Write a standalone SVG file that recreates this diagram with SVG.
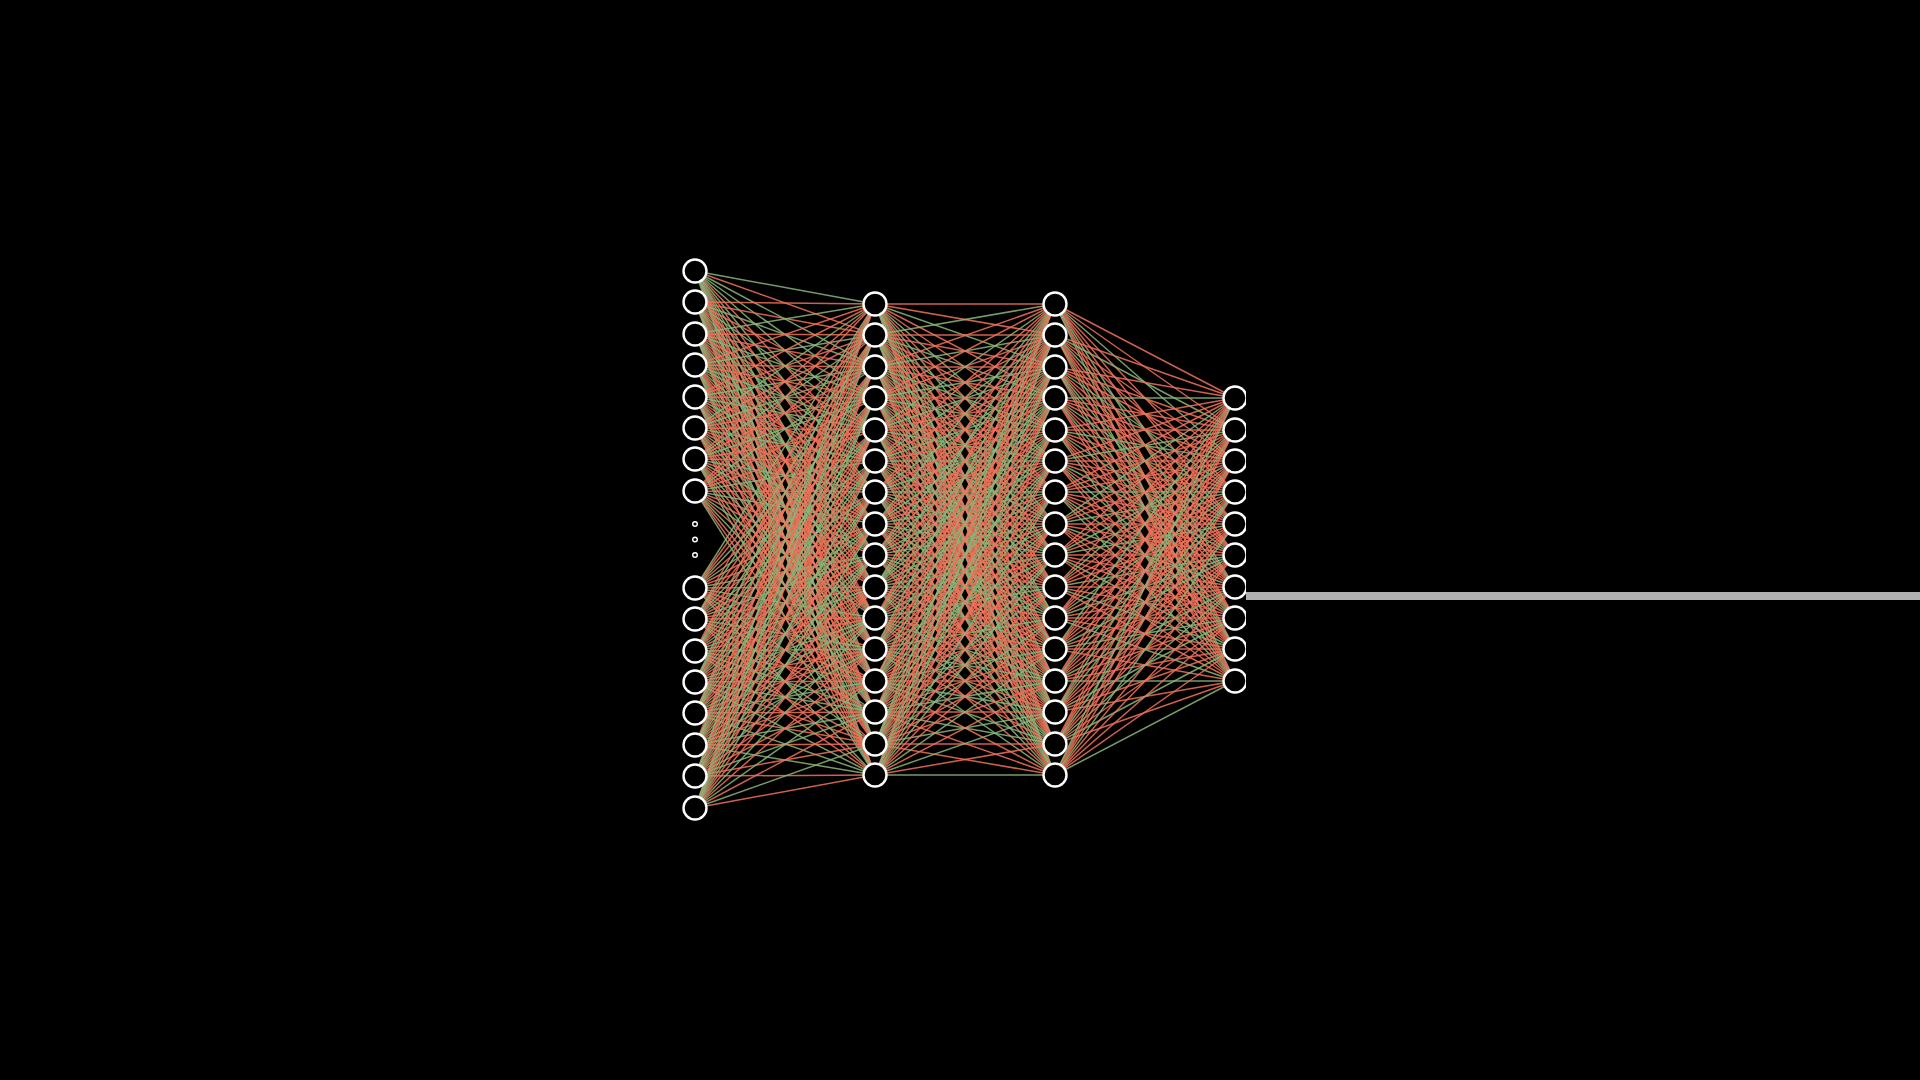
<svg xmlns="http://www.w3.org/2000/svg" width="1920" height="1080" viewBox="0 0 1920 1080">
<style>
.r{fill:none;stroke:#f0735a;stroke-width:1.5;stroke-opacity:0.85}
.g{fill:none;stroke:#8cb67a;stroke-width:1.5;stroke-opacity:0.85}
.n{fill:#000;stroke:#fff;stroke-width:2.4}
.d{fill:#000;stroke:#fff;stroke-width:1.4}
</style>
<defs>
<clipPath id="outclip"><rect x="1200" y="0" width="46" height="1080"/></clipPath>
</defs>
<rect width="1920" height="1080" fill="#000"/>
<rect x="1246" y="592" width="674" height="8" fill="#b0b0b0"/>
<g id="connectors">
<g id="edges-l1-l2">
<path class="r" d="M695 271 875 335M695 271 875 461M695 271 875 524M695 271 875 618M695 271 875 681M695 271 875 712"/>
<path class="g" d="M695 271 875 304M695 271 875 367M695 271 875 398M695 271 875 430M695 271 875 492M695 271 875 555M695 271 875 587M695 271 875 649M695 271 875 744M695 271 875 775"/>
<path class="r" d="M695 302 875 304M695 302 875 335M695 302 875 398M695 302 875 461M695 302 875 492M695 302 875 555M695 302 875 618M695 302 875 649M695 302 875 712M695 302 875 775"/>
<path class="g" d="M695 302 875 367M695 302 875 430M695 302 875 524M695 302 875 587M695 302 875 681M695 302 875 744"/>
<path class="r" d="M695 334 875 335M695 334 875 367M695 334 875 430M695 334 875 492M695 334 875 524M695 334 875 587M695 334 875 649M695 334 875 712M695 334 875 744"/>
<path class="g" d="M695 334 875 304M695 334 875 398M695 334 875 461M695 334 875 555M695 334 875 618M695 334 875 681M695 334 875 775"/>
<path class="r" d="M695 365 875 304M695 365 875 367M695 365 875 398M695 365 875 492M695 365 875 555M695 365 875 587M695 365 875 618M695 365 875 681M695 365 875 775"/>
<path class="g" d="M695 365 875 335M695 365 875 430M695 365 875 461M695 365 875 524M695 365 875 649M695 365 875 712M695 365 875 744"/>
<path class="r" d="M695 397 875 304M695 397 875 335M695 397 875 398M695 397 875 461M695 397 875 524M695 397 875 555M695 397 875 618M695 397 875 649M695 397 875 712M695 397 875 775"/>
<path class="g" d="M695 397 875 367M695 397 875 430M695 397 875 492M695 397 875 587M695 397 875 681M695 397 875 744"/>
<path class="r" d="M695 428 875 335M695 428 875 398M695 428 875 430M695 428 875 492M695 428 875 524M695 428 875 587M695 428 875 649M695 428 875 681M695 428 875 744M695 428 875 775"/>
<path class="g" d="M695 428 875 304M695 428 875 367M695 428 875 461M695 428 875 555M695 428 875 618M695 428 875 712"/>
<path class="r" d="M695 459 875 304M695 459 875 367M695 459 875 430M695 459 875 461M695 459 875 524M695 459 875 587M695 459 875 618M695 459 875 681M695 459 875 744"/>
<path class="g" d="M695 459 875 335M695 459 875 398M695 459 875 492M695 459 875 555M695 459 875 649M695 459 875 712M695 459 875 775"/>
<path class="r" d="M695 491 875 304M695 491 875 335M695 491 875 398M695 491 875 430M695 491 875 492M695 491 875 555M695 491 875 587M695 491 875 649M695 491 875 712M695 491 875 744"/>
<path class="g" d="M695 491 875 367M695 491 875 461M695 491 875 524M695 491 875 618M695 491 875 681M695 491 875 775"/>
<path class="r" d="M695 588 875 335M695 588 875 367M695 588 875 430M695 588 875 492M695 588 875 524M695 588 875 587M695 588 875 649M695 588 875 681M695 588 875 744"/>
<path class="g" d="M695 588 875 304M695 588 875 398M695 588 875 461M695 588 875 555M695 588 875 618M695 588 875 712M695 588 875 775"/>
<path class="r" d="M695 619 875 304M695 619 875 367M695 619 875 398M695 619 875 461M695 619 875 524M695 619 875 587M695 619 875 618M695 619 875 681M695 619 875 712M695 619 875 775"/>
<path class="g" d="M695 619 875 335M695 619 875 430M695 619 875 492M695 619 875 555M695 619 875 649M695 619 875 744"/>
<path class="r" d="M695 651 875 304M695 651 875 335M695 651 875 398M695 651 875 461M695 651 875 492M695 651 875 555M695 651 875 618M695 651 875 681M695 651 875 744M695 651 875 775"/>
<path class="g" d="M695 651 875 367M695 651 875 430M695 651 875 524M695 651 875 587M695 651 875 649M695 651 875 712"/>
<path class="r" d="M695 682 875 335M695 682 875 398M695 682 875 430M695 682 875 492M695 682 875 555M695 682 875 587M695 682 875 649M695 682 875 681M695 682 875 744"/>
<path class="g" d="M695 682 875 304M695 682 875 367M695 682 875 461M695 682 875 524M695 682 875 618M695 682 875 712M695 682 875 775"/>
<path class="r" d="M695 713 875 304M695 713 875 367M695 713 875 430M695 713 875 492M695 713 875 524M695 713 875 587M695 713 875 649M695 713 875 712M695 713 875 744"/>
<path class="g" d="M695 713 875 335M695 713 875 398M695 713 875 461M695 713 875 555M695 713 875 618M695 713 875 681M695 713 875 775"/>
<path class="r" d="M695 745 875 304M695 745 875 335M695 745 875 398M695 745 875 461M695 745 875 524M695 745 875 587M695 745 875 618M695 745 875 681M695 745 875 744"/>
<path class="g" d="M695 745 875 367M695 745 875 430M695 745 875 492M695 745 875 555M695 745 875 649M695 745 875 712M695 745 875 775"/>
<path class="r" d="M695 776 875 335M695 776 875 367M695 776 875 430M695 776 875 461M695 776 875 524M695 776 875 587M695 776 875 649M695 776 875 681M695 776 875 744M695 776 875 775"/>
<path class="g" d="M695 776 875 304M695 776 875 398M695 776 875 492M695 776 875 555M695 776 875 618M695 776 875 712"/>
<path class="r" d="M695 808 875 304M695 808 875 367M695 808 875 430M695 808 875 492M695 808 875 555M695 808 875 587M695 808 875 649M695 808 875 712M695 808 875 775"/>
<path class="g" d="M695 808 875 335M695 808 875 398M695 808 875 461M695 808 875 524M695 808 875 618M695 808 875 681M695 808 875 744"/>
</g>
<g id="edges-l2-l3">
<path class="r" d="M875 304 1055 304M875 304 1055 335M875 304 1055 398M875 304 1055 430M875 304 1055 492M875 304 1055 555M875 304 1055 587M875 304 1055 649M875 304 1055 712M875 304 1055 744"/>
<path class="g" d="M875 304 1055 367M875 304 1055 461M875 304 1055 524M875 304 1055 618M875 304 1055 681M875 304 1055 775"/>
<path class="r" d="M875 335 1055 335M875 335 1055 367M875 335 1055 430M875 335 1055 492M875 335 1055 524M875 335 1055 587M875 335 1055 649M875 335 1055 681M875 335 1055 744"/>
<path class="g" d="M875 335 1055 304M875 335 1055 398M875 335 1055 461M875 335 1055 555M875 335 1055 618M875 335 1055 712M875 335 1055 775"/>
<path class="r" d="M875 367 1055 304M875 367 1055 367M875 367 1055 398M875 367 1055 461M875 367 1055 524M875 367 1055 587M875 367 1055 618M875 367 1055 681M875 367 1055 712M875 367 1055 775"/>
<path class="g" d="M875 367 1055 335M875 367 1055 430M875 367 1055 492M875 367 1055 555M875 367 1055 649M875 367 1055 744"/>
<path class="r" d="M875 398 1055 304M875 398 1055 335M875 398 1055 398M875 398 1055 461M875 398 1055 492M875 398 1055 555M875 398 1055 618M875 398 1055 681M875 398 1055 744M875 398 1055 775"/>
<path class="g" d="M875 398 1055 367M875 398 1055 430M875 398 1055 524M875 398 1055 587M875 398 1055 649M875 398 1055 712"/>
<path class="r" d="M875 430 1055 335M875 430 1055 398M875 430 1055 430M875 430 1055 492M875 430 1055 555M875 430 1055 587M875 430 1055 649M875 430 1055 681M875 430 1055 744"/>
<path class="g" d="M875 430 1055 304M875 430 1055 367M875 430 1055 461M875 430 1055 524M875 430 1055 618M875 430 1055 712M875 430 1055 775"/>
<path class="r" d="M875 461 1055 304M875 461 1055 367M875 461 1055 430M875 461 1055 492M875 461 1055 524M875 461 1055 587M875 461 1055 649M875 461 1055 712M875 461 1055 744"/>
<path class="g" d="M875 461 1055 335M875 461 1055 398M875 461 1055 461M875 461 1055 555M875 461 1055 618M875 461 1055 681M875 461 1055 775"/>
<path class="r" d="M875 492 1055 304M875 492 1055 335M875 492 1055 398M875 492 1055 461M875 492 1055 524M875 492 1055 587M875 492 1055 618M875 492 1055 681M875 492 1055 744"/>
<path class="g" d="M875 492 1055 367M875 492 1055 430M875 492 1055 492M875 492 1055 555M875 492 1055 649M875 492 1055 712M875 492 1055 775"/>
<path class="r" d="M875 524 1055 335M875 524 1055 367M875 524 1055 430M875 524 1055 461M875 524 1055 524M875 524 1055 587M875 524 1055 649M875 524 1055 681M875 524 1055 744M875 524 1055 775"/>
<path class="g" d="M875 524 1055 304M875 524 1055 398M875 524 1055 492M875 524 1055 555M875 524 1055 618M875 524 1055 712"/>
<path class="r" d="M875 555 1055 304M875 555 1055 367M875 555 1055 430M875 555 1055 492M875 555 1055 555M875 555 1055 587M875 555 1055 649M875 555 1055 712M875 555 1055 775"/>
<path class="g" d="M875 555 1055 335M875 555 1055 398M875 555 1055 461M875 555 1055 524M875 555 1055 618M875 555 1055 681M875 555 1055 744"/>
<path class="r" d="M875 587 1055 335M875 587 1055 461M875 587 1055 524M875 587 1055 618M875 587 1055 681M875 587 1055 712"/>
<path class="g" d="M875 587 1055 304M875 587 1055 367M875 587 1055 398M875 587 1055 430M875 587 1055 492M875 587 1055 555M875 587 1055 587M875 587 1055 649M875 587 1055 744M875 587 1055 775"/>
<path class="r" d="M875 618 1055 304M875 618 1055 335M875 618 1055 398M875 618 1055 461M875 618 1055 492M875 618 1055 555M875 618 1055 618M875 618 1055 649M875 618 1055 712M875 618 1055 775"/>
<path class="g" d="M875 618 1055 367M875 618 1055 430M875 618 1055 524M875 618 1055 587M875 618 1055 681M875 618 1055 744"/>
<path class="r" d="M875 649 1055 335M875 649 1055 367M875 649 1055 430M875 649 1055 492M875 649 1055 524M875 649 1055 587M875 649 1055 649M875 649 1055 712M875 649 1055 744"/>
<path class="g" d="M875 649 1055 304M875 649 1055 398M875 649 1055 461M875 649 1055 555M875 649 1055 618M875 649 1055 681M875 649 1055 775"/>
<path class="r" d="M875 681 1055 304M875 681 1055 367M875 681 1055 398M875 681 1055 492M875 681 1055 555M875 681 1055 587M875 681 1055 618M875 681 1055 681M875 681 1055 775"/>
<path class="g" d="M875 681 1055 335M875 681 1055 430M875 681 1055 461M875 681 1055 524M875 681 1055 649M875 681 1055 712M875 681 1055 744"/>
<path class="r" d="M875 712 1055 304M875 712 1055 335M875 712 1055 398M875 712 1055 461M875 712 1055 524M875 712 1055 555M875 712 1055 618M875 712 1055 649M875 712 1055 712M875 712 1055 775"/>
<path class="g" d="M875 712 1055 367M875 712 1055 430M875 712 1055 492M875 712 1055 587M875 712 1055 681M875 712 1055 744"/>
<path class="r" d="M875 744 1055 335M875 744 1055 398M875 744 1055 430M875 744 1055 492M875 744 1055 524M875 744 1055 587M875 744 1055 649M875 744 1055 681M875 744 1055 744M875 744 1055 775"/>
<path class="g" d="M875 744 1055 304M875 744 1055 367M875 744 1055 461M875 744 1055 555M875 744 1055 618M875 744 1055 712"/>
<path class="r" d="M875 775 1055 304M875 775 1055 367M875 775 1055 430M875 775 1055 461M875 775 1055 524M875 775 1055 587M875 775 1055 618M875 775 1055 681M875 775 1055 744"/>
<path class="g" d="M875 775 1055 335M875 775 1055 398M875 775 1055 492M875 775 1055 555M875 775 1055 649M875 775 1055 712M875 775 1055 775"/>
</g>
<g id="edges-l3-l4">
<path class="r" d="M1055 304 1235 398M1055 304 1235 430M1055 304 1235 492M1055 304 1235 524M1055 304 1235 555M1055 304 1235 618M1055 304 1235 649"/>
<path class="g" d="M1055 304 1235 461M1055 304 1235 587M1055 304 1235 681"/>
<path class="r" d="M1055 335 1235 398M1055 335 1235 461M1055 335 1235 492M1055 335 1235 555M1055 335 1235 587M1055 335 1235 618M1055 335 1235 681"/>
<path class="g" d="M1055 335 1235 430M1055 335 1235 524M1055 335 1235 649"/>
<path class="r" d="M1055 367 1235 398M1055 367 1235 430M1055 367 1235 461M1055 367 1235 524M1055 367 1235 555M1055 367 1235 618M1055 367 1235 681"/>
<path class="g" d="M1055 367 1235 492M1055 367 1235 587M1055 367 1235 649"/>
<path class="r" d="M1055 398 1235 430M1055 398 1235 461M1055 398 1235 492M1055 398 1235 555M1055 398 1235 587M1055 398 1235 649M1055 398 1235 681"/>
<path class="g" d="M1055 398 1235 398M1055 398 1235 524M1055 398 1235 618"/>
<path class="r" d="M1055 430 1235 398M1055 430 1235 430M1055 430 1235 492M1055 430 1235 524M1055 430 1235 587M1055 430 1235 618M1055 430 1235 649"/>
<path class="g" d="M1055 430 1235 461M1055 430 1235 555M1055 430 1235 681"/>
<path class="r" d="M1055 461 1235 398M1055 461 1235 461M1055 461 1235 492M1055 461 1235 524M1055 461 1235 587M1055 461 1235 649M1055 461 1235 681"/>
<path class="g" d="M1055 461 1235 430M1055 461 1235 555M1055 461 1235 618"/>
<path class="r" d="M1055 492 1235 398M1055 492 1235 430M1055 492 1235 461M1055 492 1235 524M1055 492 1235 555M1055 492 1235 587M1055 492 1235 649"/>
<path class="g" d="M1055 492 1235 492M1055 492 1235 618M1055 492 1235 681"/>
<path class="r" d="M1055 524 1235 430M1055 524 1235 461M1055 524 1235 524M1055 524 1235 555M1055 524 1235 618M1055 524 1235 649M1055 524 1235 681"/>
<path class="g" d="M1055 524 1235 398M1055 524 1235 492M1055 524 1235 587"/>
<path class="r" d="M1055 555 1235 398M1055 555 1235 430M1055 555 1235 492M1055 555 1235 555M1055 555 1235 587M1055 555 1235 618M1055 555 1235 681"/>
<path class="g" d="M1055 555 1235 461M1055 555 1235 524M1055 555 1235 649"/>
<path class="r" d="M1055 587 1235 398M1055 587 1235 461M1055 587 1235 492M1055 587 1235 524M1055 587 1235 587M1055 587 1235 618M1055 587 1235 681"/>
<path class="g" d="M1055 587 1235 430M1055 587 1235 555M1055 587 1235 649"/>
<path class="r" d="M1055 618 1235 398M1055 618 1235 430M1055 618 1235 461M1055 618 1235 524M1055 618 1235 587M1055 618 1235 618M1055 618 1235 649"/>
<path class="g" d="M1055 618 1235 492M1055 618 1235 555M1055 618 1235 681"/>
<path class="r" d="M1055 649 1235 430M1055 649 1235 461M1055 649 1235 492M1055 649 1235 524M1055 649 1235 587M1055 649 1235 649M1055 649 1235 681"/>
<path class="g" d="M1055 649 1235 398M1055 649 1235 555M1055 649 1235 618"/>
<path class="r" d="M1055 681 1235 398M1055 681 1235 430M1055 681 1235 492M1055 681 1235 524M1055 681 1235 555M1055 681 1235 618M1055 681 1235 649"/>
<path class="g" d="M1055 681 1235 461M1055 681 1235 587M1055 681 1235 681"/>
<path class="r" d="M1055 712 1235 398M1055 712 1235 461M1055 712 1235 524M1055 712 1235 555M1055 712 1235 587M1055 712 1235 649M1055 712 1235 681"/>
<path class="g" d="M1055 712 1235 430M1055 712 1235 492M1055 712 1235 618"/>
<path class="r" d="M1055 744 1235 398M1055 744 1235 430M1055 744 1235 461M1055 744 1235 524M1055 744 1235 555M1055 744 1235 618M1055 744 1235 681"/>
<path class="g" d="M1055 744 1235 492M1055 744 1235 587M1055 744 1235 649"/>
<path class="r" d="M1055 775 1235 430M1055 775 1235 461M1055 775 1235 492M1055 775 1235 555M1055 775 1235 587M1055 775 1235 618M1055 775 1235 649"/>
<path class="g" d="M1055 775 1235 398M1055 775 1235 524M1055 775 1235 681"/>
</g>
</g>
<g id="layer1">
<g id="l1n0"><circle class="n" cx="695" cy="271" r="11.5"/></g>
<g id="l1n1"><circle class="n" cx="695" cy="302" r="11.5"/></g>
<g id="l1n2"><circle class="n" cx="695" cy="334" r="11.5"/></g>
<g id="l1n3"><circle class="n" cx="695" cy="365" r="11.5"/></g>
<g id="l1n4"><circle class="n" cx="695" cy="397" r="11.5"/></g>
<g id="l1n5"><circle class="n" cx="695" cy="428" r="11.5"/></g>
<g id="l1n6"><circle class="n" cx="695" cy="459" r="11.5"/></g>
<g id="l1n7"><circle class="n" cx="695" cy="491" r="11.5"/></g>
<g id="l1dots"><circle class="d" cx="695" cy="524" r="2.3"/><circle class="d" cx="695" cy="539.5" r="2.3"/><circle class="d" cx="695" cy="555" r="2.3"/></g>
<g id="l1n8"><circle class="n" cx="695" cy="588" r="11.5"/></g>
<g id="l1n9"><circle class="n" cx="695" cy="619" r="11.5"/></g>
<g id="l1n10"><circle class="n" cx="695" cy="651" r="11.5"/></g>
<g id="l1n11"><circle class="n" cx="695" cy="682" r="11.5"/></g>
<g id="l1n12"><circle class="n" cx="695" cy="713" r="11.5"/></g>
<g id="l1n13"><circle class="n" cx="695" cy="745" r="11.5"/></g>
<g id="l1n14"><circle class="n" cx="695" cy="776" r="11.5"/></g>
<g id="l1n15"><circle class="n" cx="695" cy="808" r="11.5"/></g>
</g>
<g id="layer2">
<g id="l2n0"><circle class="n" cx="875" cy="304" r="11.5"/></g>
<g id="l2n1"><circle class="n" cx="875" cy="335" r="11.5"/></g>
<g id="l2n2"><circle class="n" cx="875" cy="367" r="11.5"/></g>
<g id="l2n3"><circle class="n" cx="875" cy="398" r="11.5"/></g>
<g id="l2n4"><circle class="n" cx="875" cy="430" r="11.5"/></g>
<g id="l2n5"><circle class="n" cx="875" cy="461" r="11.5"/></g>
<g id="l2n6"><circle class="n" cx="875" cy="492" r="11.5"/></g>
<g id="l2n7"><circle class="n" cx="875" cy="524" r="11.5"/></g>
<g id="l2n8"><circle class="n" cx="875" cy="555" r="11.5"/></g>
<g id="l2n9"><circle class="n" cx="875" cy="587" r="11.5"/></g>
<g id="l2n10"><circle class="n" cx="875" cy="618" r="11.5"/></g>
<g id="l2n11"><circle class="n" cx="875" cy="649" r="11.5"/></g>
<g id="l2n12"><circle class="n" cx="875" cy="681" r="11.5"/></g>
<g id="l2n13"><circle class="n" cx="875" cy="712" r="11.5"/></g>
<g id="l2n14"><circle class="n" cx="875" cy="744" r="11.5"/></g>
<g id="l2n15"><circle class="n" cx="875" cy="775" r="11.5"/></g>
</g>
<g id="layer3">
<g id="l3n0"><circle class="n" cx="1055" cy="304" r="11.5"/></g>
<g id="l3n1"><circle class="n" cx="1055" cy="335" r="11.5"/></g>
<g id="l3n2"><circle class="n" cx="1055" cy="367" r="11.5"/></g>
<g id="l3n3"><circle class="n" cx="1055" cy="398" r="11.5"/></g>
<g id="l3n4"><circle class="n" cx="1055" cy="430" r="11.5"/></g>
<g id="l3n5"><circle class="n" cx="1055" cy="461" r="11.5"/></g>
<g id="l3n6"><circle class="n" cx="1055" cy="492" r="11.5"/></g>
<g id="l3n7"><circle class="n" cx="1055" cy="524" r="11.5"/></g>
<g id="l3n8"><circle class="n" cx="1055" cy="555" r="11.5"/></g>
<g id="l3n9"><circle class="n" cx="1055" cy="587" r="11.5"/></g>
<g id="l3n10"><circle class="n" cx="1055" cy="618" r="11.5"/></g>
<g id="l3n11"><circle class="n" cx="1055" cy="649" r="11.5"/></g>
<g id="l3n12"><circle class="n" cx="1055" cy="681" r="11.5"/></g>
<g id="l3n13"><circle class="n" cx="1055" cy="712" r="11.5"/></g>
<g id="l3n14"><circle class="n" cx="1055" cy="744" r="11.5"/></g>
<g id="l3n15"><circle class="n" cx="1055" cy="775" r="11.5"/></g>
</g>
<g id="layer4" clip-path="url(#outclip)">
<g id="l4n0"><circle class="n" cx="1235" cy="398" r="11.5"/></g>
<g id="l4n1"><circle class="n" cx="1235" cy="430" r="11.5"/></g>
<g id="l4n2"><circle class="n" cx="1235" cy="461" r="11.5"/></g>
<g id="l4n3"><circle class="n" cx="1235" cy="492" r="11.5"/></g>
<g id="l4n4"><circle class="n" cx="1235" cy="524" r="11.5"/></g>
<g id="l4n5"><circle class="n" cx="1235" cy="555" r="11.5"/></g>
<g id="l4n6"><circle class="n" cx="1235" cy="587" r="11.5"/></g>
<g id="l4n7"><circle class="n" cx="1235" cy="618" r="11.5"/></g>
<g id="l4n8"><circle class="n" cx="1235" cy="649" r="11.5"/></g>
<g id="l4n9"><circle class="n" cx="1235" cy="681" r="11.5"/></g>
</g>
</svg>
